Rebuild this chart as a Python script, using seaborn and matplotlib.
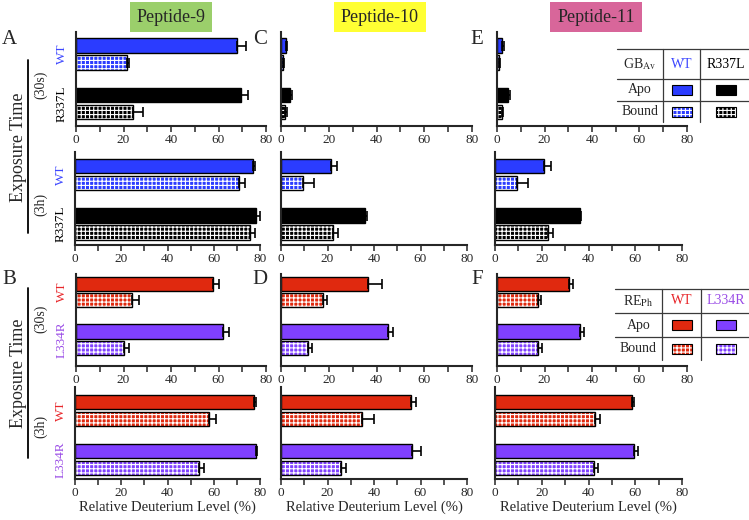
import matplotlib.pyplot as plt
import matplotlib.ticker as mticker
from matplotlib.colors import to_rgba
from matplotlib.patches import Rectangle
import numpy as np
import pandas as pd
import seaborn as sns

# relative deuterium level (%), order: [WT apo, WT bound, mutant apo, mutant bound]
states = ['Apo', 'Bound']
gb_variants = ['WT', 'R337L']
re_variants = ['WT', 'L334R']
peptides = ['Peptide-9', 'Peptide-10', 'Peptide-11']

gb_30s = [[67.7, 21.3, 69.3, 24.0], [2.0, 1.0, 3.8, 1.7], [2.0, 1.0, 4.5, 2.0]]
gb_30s_err = [[4.0, 1.2, 3.2, 4.0], [0.6, 0.4, 1.0, 0.7], [0.8, 0.4, 0.9, 0.6]]
gb_3h = [[77.0, 70.9, 78.1, 75.7], [21.5, 9.5, 36.3, 22.2], [20.9, 9.5, 36.3, 22.6]]
gb_3h_err = [[1.0, 2.6, 1.9, 2.1], [2.6, 4.5, 0.7, 2.4], [2.9, 4.5, 0.7, 2.1]]
re_30s = [[57.6, 23.6, 61.8, 20.3], [36.3, 17.4, 44.9, 11.4], [30.3, 17.3, 34.8, 17.3]]
re_30s_err = [[2.8, 3.0, 2.8, 2.0], [5.8, 1.7, 2.1, 1.7], [1.7, 1.3, 1.9, 1.5]]
re_3h = [[77.4, 58.1, 78.1, 53.5], [55.8, 34.7, 56.2, 25.7], [58.5, 42.8, 59.6, 42.5]]
re_3h_err = [[0.9, 3.0, 0.6, 2.4], [2.3, 5.4, 3.9, 2.3], [1.0, 2.1, 1.4, 1.7]]

gb_colors = ['#2b3cff', '#000000']
re_colors = ['#e0290f', '#8040ff']
gb_text = ['#3c46ff', '#000000']
re_text = ['#e8262a', '#9a4ce6']
title_colors = ['#9bcf6b', '#ffff33', '#d8669a']

sns.set_style('ticks')
plt.rcParams['font.family'] = ['Liberation Serif', 'DejaVu Serif']
plt.rcParams['mathtext.fontset'] = 'stix'
plt.rcParams['hatch.linewidth'] = 0.8

W, H = 749, 520
fig = plt.figure(figsize=(7.49, 5.2), dpi=100)


def px_axes(l, r, t, b):
    return fig.add_axes([l / W, 1 - b / H, (r - l) / W, (b - t) / H])


def checker(p):
    p.set_hatch('++++')
    p._hatch_color = to_rgba('white')


def draw_panel(ax, vals, errs, variants, colors, ylim, labels=None):
    df = pd.DataFrame({'variant': np.repeat(variants, 2),
                       'state': states * 2,
                       'value': vals})
    sns.barplot(data=df, x='value', y='variant', hue='state', order=variants,
                hue_order=states, orient='h', width=0.687, gap=0.15,
                edgecolor='black', linewidth=1.0, errorbar=None,
                legend=False, ax=ax)
    bar_sets = list(ax.containers)
    for k, cont in enumerate(bar_sets):
        for j, bar in enumerate(cont):
            bar.set_facecolor(colors[j])
            if states[k] == 'Bound':
                checker(bar)
            yc = bar.get_y() + bar.get_height() / 2
            ax.errorbar(bar.get_width(), yc, xerr=[[0], [errs[2 * j + k]]],
                        fmt='none', ecolor='black', elinewidth=1.2,
                        capsize=3.5, capthick=1.2, clip_on=False)
    ax.set_xlim(0, 80)
    ax.set_ylim(*ylim)
    ax.xaxis.set_major_locator(mticker.MultipleLocator(20))
    ax.xaxis.set_minor_locator(mticker.MultipleLocator(10))
    ax.tick_params(axis='x', which='both', direction='out', length=4,
                   width=1.1, labelsize=9.5, pad=2)
    ax.tick_params(axis='y', length=0, pad=6)
    ax.set_xlabel('')
    ax.set_ylabel('')
    for s in ['left', 'bottom']:
        ax.spines[s].set_linewidth(1.5)
    sns.despine(ax=ax)
    if labels is not None:
        ax.set_yticks([0, 1])
        ax.set_yticklabels(variants, rotation=90, va='center', fontsize=9.5)
        for t, c in zip(ax.get_yticklabels(), labels):
            t.set_color(c)
    else:
        ax.set_yticklabels([])


cols_30s = [(76, 266), (281, 472), (497, 687)]
cols_3h = [(75, 260), (281, 467), (495, 682)]
rows = [(32, 126, (1.455, -0.445)), (152, 245, (1.424, -0.455)),
        (274, 366, (1.547, -0.37)), (387, 479, (1.40, -0.478))]

for i in range(3):
    t, b, yl = rows[0]
    ax = px_axes(*cols_30s[i], t, b)
    draw_panel(ax, gb_30s[i], gb_30s_err[i], gb_variants, gb_colors, yl,
               gb_text if i == 0 else None)
    t, b, yl = rows[1]
    ax = px_axes(*cols_3h[i], t, b)
    draw_panel(ax, gb_3h[i], gb_3h_err[i], gb_variants, gb_colors, yl,
               gb_text if i == 0 else None)
    t, b, yl = rows[2]
    ax = px_axes(*cols_30s[i], t, b)
    draw_panel(ax, re_30s[i], re_30s_err[i], re_variants, re_colors, yl,
               re_text if i == 0 else None)
    t, b, yl = rows[3]
    ax = px_axes(*cols_3h[i], t, b)
    draw_panel(ax, re_3h[i], re_3h_err[i], re_variants, re_colors, yl,
               re_text if i == 0 else None)
    ax.set_xlabel('Relative Deuterium Level (%)', fontsize=10.5, labelpad=0.5)

# overlay in pixel coordinates for titles, letters, brackets and key tables
ov = fig.add_axes([0, 0, 1, 1], zorder=5)
ov.set_xlim(0, W)
ov.set_ylim(H, 0)
ov.axis('off')

for x, name, c in zip([171, 380, 596], peptides, title_colors):
    ov.text(x, 17, name, ha='center', va='center', fontsize=13,
            bbox=dict(boxstyle='square,pad=0.38', fc=c, ec='none'))

for x, y, s in [(9, 40, 'A'), (260, 40, 'C'), (477, 40, 'E'),
                (9, 280, 'B'), (260, 280, 'D'), (477, 280, 'F')]:
    ov.text(x, y, s, ha='center', va='center', fontsize=15)

for yc, y0, y1, y30, y3 in [(147, 60, 233, 85, 204), (373, 288, 458, 319, 426)]:
    ov.text(19, yc, 'Exposure Time', rotation=90, ha='center', va='center',
            fontsize=13)
    ov.plot([28, 28], [y0, y1], color='black', lw=1.3)
    ov.text(41, y30, '(30s)', rotation=90, ha='center', va='center', fontsize=10)
    ov.text(41, y3, '(3h)', rotation=90, ha='center', va='center', fontsize=10)


def key_table(l, xs, ys, bottom, head, variants, colors, tcolors):
    lc = '#3a3a3a'
    for y in ys:
        ov.plot([l, W], [y, y], color=lc, lw=0.9)
    for x in xs:
        ov.plot([x, x], [ys[0], bottom], color=lc, lw=0.9)
    rc = [(ys[0] + ys[1]) / 2, (ys[1] + ys[2]) / 2, (ys[2] + bottom) / 2]
    cc = [(l + xs[0]) / 2, (xs[0] + xs[1]) / 2, (xs[1] + W) / 2 + 1]
    ov.text(cc[0], rc[0], head, ha='center', va='center', fontsize=10)
    ov.text(cc[0], rc[1], 'Apo', ha='center', va='center', fontsize=10)
    ov.text(cc[0], rc[2], 'Bound', ha='center', va='center', fontsize=10)
    for j in range(2):
        ov.text(cc[j + 1], rc[0], variants[j], ha='center', va='center',
                fontsize=10, color=tcolors[j])
        for r, st in zip(rc[1:], states):
            p = Rectangle((cc[j + 1] - 10, r - 5), 20, 10, fc=colors[j],
                          ec='black', lw=0.8)
            if st == 'Bound':
                checker(p)
            ov.add_patch(p)


key_table(617, [663, 700], [49, 79, 101], 122, r'GB$_{\mathrm{Av}}$',
          gb_variants, gb_colors, gb_text)
key_table(615, [662, 701], [289, 313, 337], 360, r'RE$_{\mathrm{Ph}}$',
          re_variants, re_colors, re_text)

fig.savefig('out.png', dpi=100)
